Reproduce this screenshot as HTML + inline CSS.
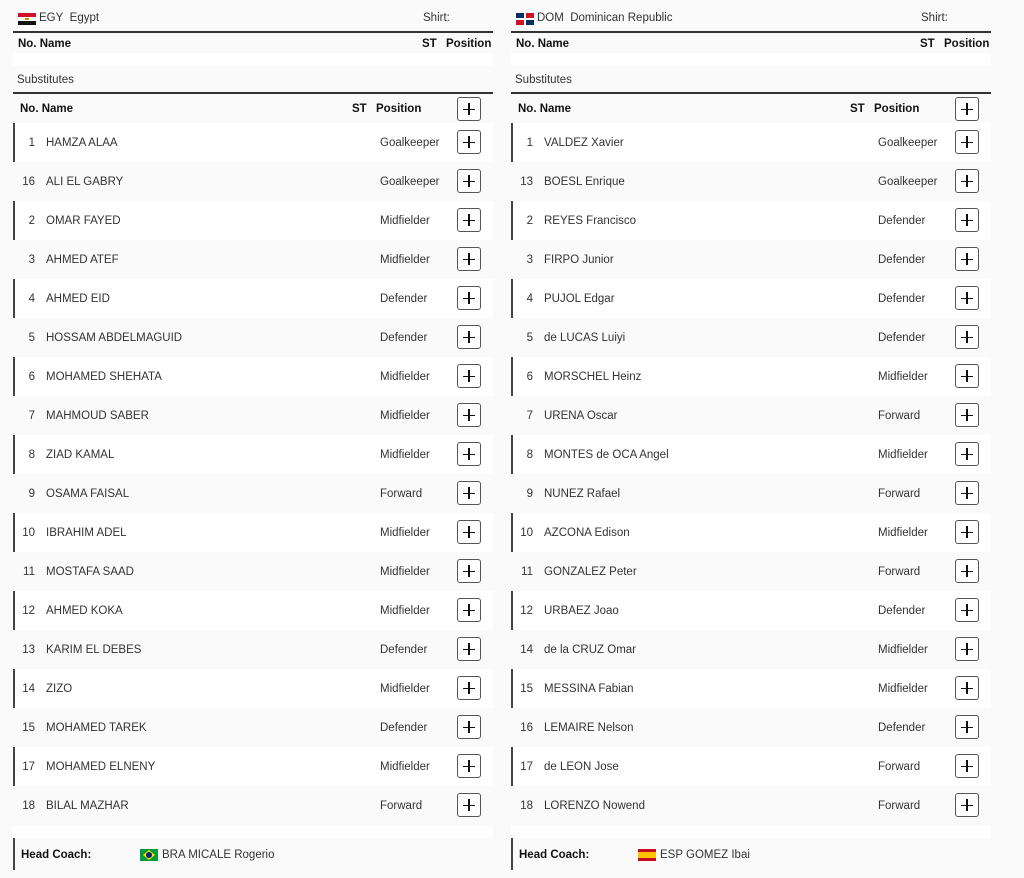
<!DOCTYPE html>
<html><head><meta charset="utf-8"><style>
*{margin:0;padding:0;box-sizing:border-box}
body{width:1024px;height:878px;background:#fafafa;font-family:"Liberation Sans",sans-serif;font-size:11.5px;color:#333;position:relative;overflow:hidden}
.p{position:absolute;top:0;width:480px;height:878px}
.t{position:absolute;white-space:nowrap}
.b{font-weight:bold;color:#111}
.line{position:absolute;left:0;width:480px;height:2px;background:#333}
.row{position:absolute;left:0;width:480px;height:39px}
.row.w{background:#fff;box-shadow:inset 2px 0 0 #444}
.row span{position:absolute;top:14px;white-space:nowrap}
.n{width:22px;text-align:right;left:0}
.nm{left:33px}
.ps{left:367px}
.btn{position:absolute;left:444px;top:7px;width:24px;height:24px;border:1px solid #555;border-radius:3px;background:#fff}
.btn:before{content:"";position:absolute;left:5px;top:10.5px;width:12px;height:1.6px;background:#111}
.btn:after{content:"";position:absolute;left:10.2px;top:5px;width:1.6px;height:12px;background:#111}
</style></head><body>

<div class="p" style="left:13px">
<div class="t" style="left:5px;top:13px;width:18px;height:12px"><div style="height:4px;background:#ce1126"></div><div style="height:4px;background:#fff;position:relative"><div style="position:absolute;left:7px;top:1px;width:4px;height:2px;background:#c09300"></div></div><div style="height:4px;background:#111"></div></div>
<div class="t" style="left:26px;top:12px">EGY&nbsp; Egypt</div>
<div class="t" style="left:410px;top:12px">Shirt:</div>
<div class="line" style="top:31px"></div>
<div class="t b" style="left:5px;top:38px">No. Name</div>
<div class="t b" style="left:409px;top:38px">ST</div>
<div class="t b" style="left:433px;top:38px">Position</div>
<div style="position:absolute;left:0;top:53px;width:480px;height:13px;background:#fff"></div>
<div class="t" style="left:4px;top:74px">Substitutes</div>
<div class="line" style="top:92px"></div>
<div class="row" style="top:94px;height:29px"><span class="b" style="left:7px;top:9px">No. Name</span><span class="b" style="left:339px;top:9px">ST</span><span class="b" style="left:363px;top:9px">Position</span><div class="btn" style="top:3px"></div></div>
<div class="row w" style="top:123px"><span class="n">1</span><span class="nm">HAMZA ALAA</span><span class="ps">Goalkeeper</span><div class="btn"></div></div>
<div class="row" style="top:162px"><span class="n">16</span><span class="nm">ALI EL GABRY</span><span class="ps">Goalkeeper</span><div class="btn"></div></div>
<div class="row w" style="top:201px"><span class="n">2</span><span class="nm">OMAR FAYED</span><span class="ps">Midfielder</span><div class="btn"></div></div>
<div class="row" style="top:240px"><span class="n">3</span><span class="nm">AHMED ATEF</span><span class="ps">Midfielder</span><div class="btn"></div></div>
<div class="row w" style="top:279px"><span class="n">4</span><span class="nm">AHMED EID</span><span class="ps">Defender</span><div class="btn"></div></div>
<div class="row" style="top:318px"><span class="n">5</span><span class="nm">HOSSAM ABDELMAGUID</span><span class="ps">Defender</span><div class="btn"></div></div>
<div class="row w" style="top:357px"><span class="n">6</span><span class="nm">MOHAMED SHEHATA</span><span class="ps">Midfielder</span><div class="btn"></div></div>
<div class="row" style="top:396px"><span class="n">7</span><span class="nm">MAHMOUD SABER</span><span class="ps">Midfielder</span><div class="btn"></div></div>
<div class="row w" style="top:435px"><span class="n">8</span><span class="nm">ZIAD KAMAL</span><span class="ps">Midfielder</span><div class="btn"></div></div>
<div class="row" style="top:474px"><span class="n">9</span><span class="nm">OSAMA FAISAL</span><span class="ps">Forward</span><div class="btn"></div></div>
<div class="row w" style="top:513px"><span class="n">10</span><span class="nm">IBRAHIM ADEL</span><span class="ps">Midfielder</span><div class="btn"></div></div>
<div class="row" style="top:552px"><span class="n">11</span><span class="nm">MOSTAFA SAAD</span><span class="ps">Midfielder</span><div class="btn"></div></div>
<div class="row w" style="top:591px"><span class="n">12</span><span class="nm">AHMED KOKA</span><span class="ps">Midfielder</span><div class="btn"></div></div>
<div class="row" style="top:630px"><span class="n">13</span><span class="nm">KARIM EL DEBES</span><span class="ps">Defender</span><div class="btn"></div></div>
<div class="row w" style="top:669px"><span class="n">14</span><span class="nm">ZIZO</span><span class="ps">Midfielder</span><div class="btn"></div></div>
<div class="row" style="top:708px"><span class="n">15</span><span class="nm">MOHAMED TAREK</span><span class="ps">Defender</span><div class="btn"></div></div>
<div class="row w" style="top:747px"><span class="n">17</span><span class="nm">MOHAMED ELNENY</span><span class="ps">Midfielder</span><div class="btn"></div></div>
<div class="row" style="top:786px"><span class="n">18</span><span class="nm">BILAL MAZHAR</span><span class="ps">Forward</span><div class="btn"></div></div>
<div style="position:absolute;left:0;top:826px;width:480px;height:12px;background:#fff"></div>
<div class="row" style="top:838px;height:32px;box-shadow:inset 2px 0 0 #444"><span class="b" style="left:8px;top:11px">Head Coach:</span>
<span style="left:127px;top:11px;width:18px;height:12px;background:#009c3b"><i style="position:absolute;left:3px;top:1px;width:12px;height:10px;background:#ffdf00;clip-path:polygon(50% 0,100% 50%,50% 100%,0 50%)"></i><i style="position:absolute;left:6px;top:3px;width:6px;height:6px;border-radius:50%;background:#002776"></i></span>
<span style="left:149px;top:11px">BRA MICALE Rogerio</span></div>
</div>

<div class="p" style="left:511px">
<div class="t" style="left:5px;top:13px;width:18px;height:12px;background:#fff"><i style="position:absolute;left:0;top:0;width:8px;height:5px;background:#002d62"></i><i style="position:absolute;left:10px;top:0;width:8px;height:5px;background:#ce1126"></i><i style="position:absolute;left:0;top:7px;width:8px;height:5px;background:#ce1126"></i><i style="position:absolute;left:10px;top:7px;width:8px;height:5px;background:#002d62"></i></div>
<div class="t" style="left:26px;top:12px">DOM&nbsp; Dominican Republic</div>
<div class="t" style="left:410px;top:12px">Shirt:</div>
<div class="line" style="top:31px"></div>
<div class="t b" style="left:5px;top:38px">No. Name</div>
<div class="t b" style="left:409px;top:38px">ST</div>
<div class="t b" style="left:433px;top:38px">Position</div>
<div style="position:absolute;left:0;top:53px;width:480px;height:13px;background:#fff"></div>
<div class="t" style="left:4px;top:74px">Substitutes</div>
<div class="line" style="top:92px"></div>
<div class="row" style="top:94px;height:29px"><span class="b" style="left:7px;top:9px">No. Name</span><span class="b" style="left:339px;top:9px">ST</span><span class="b" style="left:363px;top:9px">Position</span><div class="btn" style="top:3px"></div></div>
<div class="row w" style="top:123px"><span class="n">1</span><span class="nm">VALDEZ Xavier</span><span class="ps">Goalkeeper</span><div class="btn"></div></div>
<div class="row" style="top:162px"><span class="n">13</span><span class="nm">BOESL Enrique</span><span class="ps">Goalkeeper</span><div class="btn"></div></div>
<div class="row w" style="top:201px"><span class="n">2</span><span class="nm">REYES Francisco</span><span class="ps">Defender</span><div class="btn"></div></div>
<div class="row" style="top:240px"><span class="n">3</span><span class="nm">FIRPO Junior</span><span class="ps">Defender</span><div class="btn"></div></div>
<div class="row w" style="top:279px"><span class="n">4</span><span class="nm">PUJOL Edgar</span><span class="ps">Defender</span><div class="btn"></div></div>
<div class="row" style="top:318px"><span class="n">5</span><span class="nm">de LUCAS Luiyi</span><span class="ps">Defender</span><div class="btn"></div></div>
<div class="row w" style="top:357px"><span class="n">6</span><span class="nm">MORSCHEL Heinz</span><span class="ps">Midfielder</span><div class="btn"></div></div>
<div class="row" style="top:396px"><span class="n">7</span><span class="nm">URENA Oscar</span><span class="ps">Forward</span><div class="btn"></div></div>
<div class="row w" style="top:435px"><span class="n">8</span><span class="nm">MONTES de OCA Angel</span><span class="ps">Midfielder</span><div class="btn"></div></div>
<div class="row" style="top:474px"><span class="n">9</span><span class="nm">NUNEZ Rafael</span><span class="ps">Forward</span><div class="btn"></div></div>
<div class="row w" style="top:513px"><span class="n">10</span><span class="nm">AZCONA Edison</span><span class="ps">Midfielder</span><div class="btn"></div></div>
<div class="row" style="top:552px"><span class="n">11</span><span class="nm">GONZALEZ Peter</span><span class="ps">Forward</span><div class="btn"></div></div>
<div class="row w" style="top:591px"><span class="n">12</span><span class="nm">URBAEZ Joao</span><span class="ps">Defender</span><div class="btn"></div></div>
<div class="row" style="top:630px"><span class="n">14</span><span class="nm">de la CRUZ Omar</span><span class="ps">Midfielder</span><div class="btn"></div></div>
<div class="row w" style="top:669px"><span class="n">15</span><span class="nm">MESSINA Fabian</span><span class="ps">Midfielder</span><div class="btn"></div></div>
<div class="row" style="top:708px"><span class="n">16</span><span class="nm">LEMAIRE Nelson</span><span class="ps">Defender</span><div class="btn"></div></div>
<div class="row w" style="top:747px"><span class="n">17</span><span class="nm">de LEON Jose</span><span class="ps">Forward</span><div class="btn"></div></div>
<div class="row" style="top:786px"><span class="n">18</span><span class="nm">LORENZO Nowend</span><span class="ps">Forward</span><div class="btn"></div></div>
<div style="position:absolute;left:0;top:826px;width:480px;height:12px;background:#fff"></div>
<div class="row" style="top:838px;height:32px;box-shadow:inset 2px 0 0 #444"><span class="b" style="left:8px;top:11px">Head Coach:</span>
<span style="left:127px;top:11px;width:18px;height:12px;background:#c60b1e"><i style="position:absolute;left:0;top:3px;width:18px;height:6px;background:#ffc400"></i></span>
<span style="left:149px;top:11px">ESP GOMEZ Ibai</span></div>
</div>
</body></html>
